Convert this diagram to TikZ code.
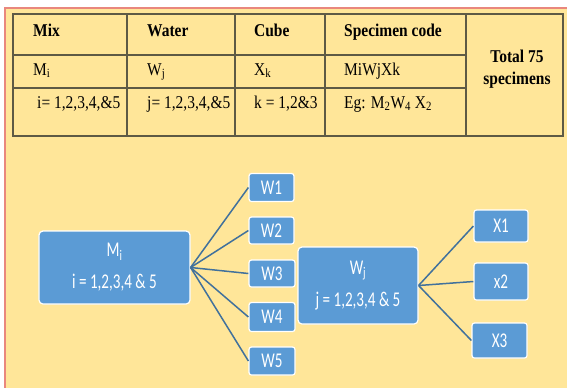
\documentclass[tikz,border=0pt]{standalone}
\usepackage{fontspec}
\setmainfont{Liberation Serif}[FakeStretch=0.86]
\newfontfamily\boxfont{Carlito}[FakeStretch=0.72]
\definecolor{bgyellow}{HTML}{FFE699}
\definecolor{framered}{HTML}{E9877D}
\definecolor{tabline}{HTML}{5E5A45}
\definecolor{boxblue}{HTML}{5B9BD5}
\definecolor{connblue}{HTML}{41719C}
\tikzset{
  tabline/.style={draw=tabline, line width=1.1bp},
  tabtxt/.style={anchor=base west, inner sep=0pt, font=\fontsize{18bp}{21bp}\selectfont},
  tabhead/.style={tabtxt, font=\fontsize{18bp}{21bp}\selectfont\bfseries},
  bluebox/.style={draw=white, line width=1.2bp, fill=boxblue, rounded corners=4bp,
    text=white, inner sep=0pt, align=center,
    font=\boxfont\fontsize{21bp}{32bp}\selectfont},
  smallbox/.style={bluebox, rounded corners=2.5bp},
  conn/.style={draw=connblue, line width=1.5bp}
}
\begin{document}
\begin{tikzpicture}[x=1bp,y=-1bp]
\useasboundingbox (0,0) rectangle (567,387);
\fill[white] (0,0) rectangle (567,387);
\begin{scope}
  \clip (0,0) rectangle (567,387);
  \draw[draw=framered, line width=2.2bp, fill=bgyellow] (5,8) rectangle (620,430);
\end{scope}

% table
\draw[tabline] (13,14) rectangle (563,136);
\foreach \xx in {127,235,325,466} \draw[tabline] (\xx,14) -- (\xx,136);
\draw[tabline] (13,55) -- (466,55);
\draw[tabline] (13,88) -- (466,88);

\node[tabhead] (h1) at (33,36) {Mix};
\node[tabhead] (h2) at (147,36) {Water};
\node[tabhead] (h3) at (254,36) {Cube};
\node[tabhead] (h4) at (344,36) {Specimen code};

\node[tabtxt] (r1) at (33,75) {M\textsubscript{i}};
\node[tabtxt] (r2) at (147,75) {W\textsubscript{j}};
\node[tabtxt] (r3) at (254,75) {X\textsubscript{k}};
\node[tabtxt] (r4) at (344,75) {MiWjXk};

\node[tabtxt] (s1) at (37,108) {i= 1,2,3,4,\&5};
\node[tabtxt] (s2) at (147,108) {j= 1,2,3,4,\&5};
\node[tabtxt] (s3) at (254,108) {k = 1,2\&3};
\node[tabtxt] (s4) at (344,108) {Eg: M\textsubscript{2}W\textsubscript{4} X\textsubscript{2}};

\node[tabhead, anchor=base] (t1) at (517,62) {Total 75};
\node[tabhead, anchor=base] (t2) at (517,84) {specimens};

% diagram
\node[bluebox, minimum width=151bp, minimum height=73bp] (M) at (114.5,267.5)
  {M\textsubscript{i}\\i = 1,2,3,4 \& 5};
\node[smallbox, minimum width=45bp, minimum height=28bp] (W1) at (271.5,187.5) {W1};
\node[smallbox, minimum width=45bp, minimum height=27bp] (W2) at (271.5,230.5) {W2};
\node[smallbox, minimum width=46bp, minimum height=27bp] (W3) at (272,273.5) {W3};
\node[smallbox, minimum width=46bp, minimum height=29bp] (W4) at (272,317) {W4};
\node[smallbox, minimum width=46bp, minimum height=28bp] (W5) at (272,361) {W5};

\node[bluebox, minimum width=120bp, minimum height=77bp] (Wj) at (358,285.5)
  {W\textsubscript{j}\\j = 1,2,3,4 \& 5};

\node[smallbox, minimum width=54bp, minimum height=32bp] (X1) at (501,226) {X1};
\node[smallbox, minimum width=54bp, minimum height=37bp] (X2) at (501,281.5) {x2};
\node[smallbox, minimum width=55bp, minimum height=35bp] (X3) at (499.5,340.5) {X3};

\foreach \w in {W1,W2,W3,W4,W5} \draw[conn] (M.east) -- (\w.west);
\foreach \x in {X1,X2,X3} \draw[conn] (Wj.east) -- (\x.west);
\end{tikzpicture}
\end{document}
